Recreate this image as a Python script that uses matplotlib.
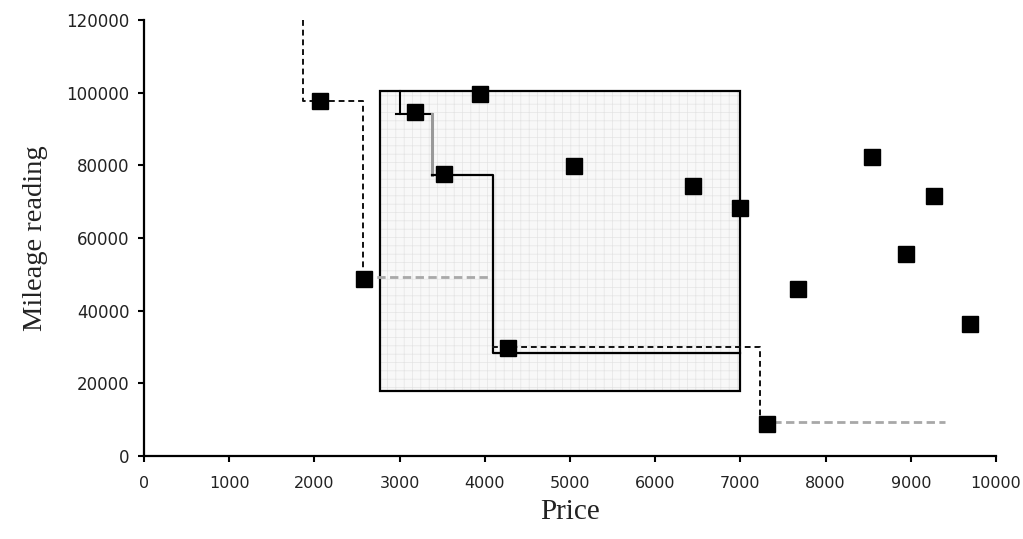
import matplotlib
matplotlib.use("Agg")
import matplotlib.pyplot as plt
from matplotlib.patches import Rectangle

# ---- data ----
price = [2060, 2580, 3180, 3520, 3940, 4270, 5050, 6440, 6990, 7310, 7680, 8540, 8940, 9270, 9690]
mileage = [97700, 48700, 94700, 77600, 99700, 29700, 79800, 74300, 68300, 8800, 46000, 82200, 55600, 71600, 36400]

# shaded box (x0, x1, y0, y1)
box_x = [2770, 7000]
box_y = [18000, 100500]

# black dashed step path (left)
dash_left_x = [1870, 1870, 2570, 2570]
dash_left_y = [120000, 97800, 97800, 48700]
# grey dashed horizontal from (2580, 49000)
grey_mid_x = [2580, 4080]
grey_mid_y = [49300, 49300]
# solid black path
solid_top_x = [3000, 3000]
solid_top_y = [100500, 94100]
solid_tick_x = [2960, 3380]
solid_tick_y = [94100, 94100]
grey_solid_x = [3380, 3380]
grey_solid_y = [94100, 77400]
solid_main_x = [3380, 4100, 4100, 7000]
solid_main_y = [77400, 77400, 28400, 28400]
# black dashed path (right)
dash_right_x = [4080, 7230, 7230]
dash_right_y = [30000, 30000, 9400]
# grey dashed horizontal (bottom right)
grey_low_x = [7230, 9400]
grey_low_y = [9400, 9400]

xticks = [0, 1000, 2000, 3000, 4000, 5000, 6000, 7000, 8000, 9000, 10000]
yticks = [0, 20000, 40000, 60000, 80000, 100000, 120000]

plt.rcParams['hatch.linewidth'] = 0.5

fig = plt.figure(figsize=(10.23, 5.39), dpi=100)
ax = fig.add_axes([0.1408, 0.154, 0.8328, 0.809])

rect = Rectangle((box_x[0], box_y[0]), box_x[1] - box_x[0], box_y[1] - box_y[0],
                 facecolor='#f8f8f8', edgecolor='#e4e4e4', linewidth=0, hatch='++', zorder=1)
ax.add_patch(rect)
rect2 = Rectangle((box_x[0], box_y[0]), box_x[1] - box_x[0], box_y[1] - box_y[0],
                  facecolor='none', edgecolor='black', linewidth=1.6, zorder=2)
ax.add_patch(rect2)

ax.plot(dash_left_x, dash_left_y, color='#111111', lw=1.4, ls=(0, (3, 2)), zorder=3)
ax.plot(grey_mid_x, grey_mid_y, color='#a8a8a8', lw=2.0, ls=(0, (3, 1.6)), zorder=3)
ax.plot(solid_top_x, solid_top_y, color='black', lw=1.5, zorder=3)
ax.plot(solid_tick_x, solid_tick_y, color='black', lw=1.5, zorder=3)
ax.plot(grey_solid_x, grey_solid_y, color='#999999', lw=2.2, zorder=3)
ax.plot(solid_main_x, solid_main_y, color='black', lw=1.6, zorder=3)
ax.plot(dash_right_x, dash_right_y, color='#111111', lw=1.4, ls=(0, (3, 2)), zorder=3)
ax.plot(grey_low_x, grey_low_y, color='#a8a8a8', lw=2.0, ls=(0, (3, 1.6)), zorder=3)

ax.plot(price, mileage, ls='none', marker='s', markersize=11, color='black', zorder=4)

ax.set_xlim(0, 10000)
ax.set_ylim(0, 120000)
ax.set_xticks(xticks)
ax.set_yticks(yticks)
ax.set_xticklabels([str(v) for v in xticks], fontsize=11.5, family='DejaVu Sans', color='#222222')
ax.set_yticklabels([str(v) for v in yticks], fontsize=12, family='DejaVu Sans', color='#222222')

for s in ['top', 'right']:
    ax.spines[s].set_visible(False)
for s in ['left', 'bottom']:
    ax.spines[s].set_linewidth(1.6)
    ax.spines[s].set_color('black')
ax.tick_params(axis='both', direction='out', length=4.5, width=1.5, color='black')
ax.tick_params(axis='x', pad=10)
ax.tick_params(axis='y', pad=6)

ax.set_xlabel('Price', fontsize=21, family='Liberation Serif', color='#222222', labelpad=6)
ax.set_ylabel('Mileage reading', fontsize=20.5, family='Liberation Serif', color='#222222', labelpad=13)

fig.savefig('out.png', dpi=100)
